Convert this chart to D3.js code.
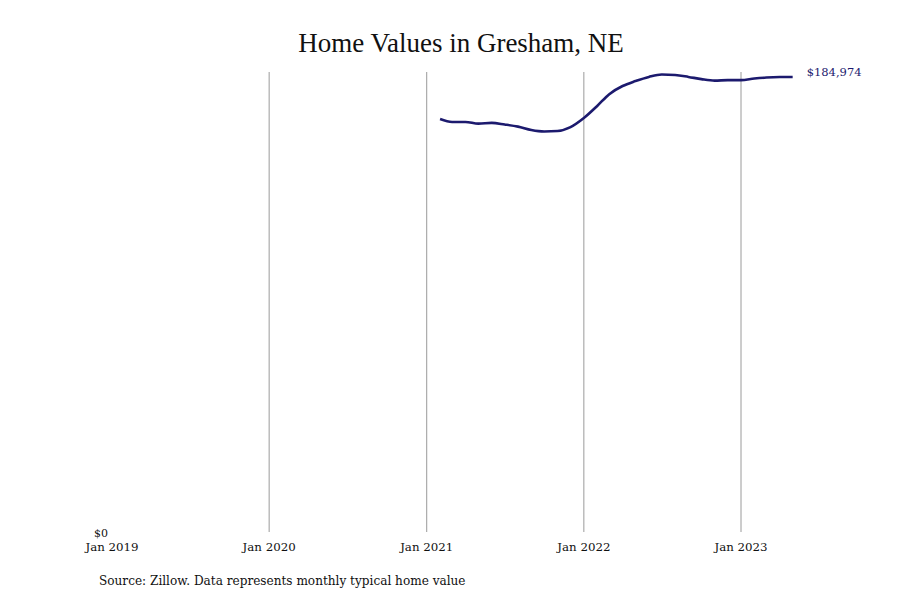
<!DOCTYPE html>
<html><head><meta charset="utf-8">
<script src="https://cdn.jsdelivr.net/npm/d3@7"></script>
<style>body{margin:0;background:#fff;} svg{display:block;}</style>
</head><body>
<svg id="c" width="900" height="600"></svg>
<script>
const months = ["2021-02","2021-03","2021-04","2021-05","2021-06","2021-07","2021-08","2021-09","2021-10","2021-11","2021-12",
"2022-01","2022-02","2022-03","2022-04","2022-05","2022-06","2022-07","2022-08","2022-09","2022-10","2022-11","2022-12",
"2023-01","2023-02","2023-03","2023-04","2023-05"];
const values = [167900,166700,166700,166000,166300,165650,164800,163400,162800,163000,164600,
168300,173200,178000,181300,183300,185000,186000,185800,185000,184100,183500,183700,
183700,184350,184750,184950,184974];
const tickYears = ["2019","2020","2021","2022","2023"];
const tickLabels = ["Jan 2019","Jan 2020","Jan 2021","Jan 2022","Jan 2023"];
const yMax = 187000;

const parse = d3.timeParse("%Y-%m");
const data = months.map((m,i)=>({date:parse(m), value:values[i]}));
const svg = d3.select("#c");
const font = "'DejaVu Serif',serif";
const titleFont = "'Liberation Serif','DejaVu Serif',serif";

const x = d3.scaleTime().domain([new Date(2019,0,1), new Date(2023,0,1)]).range([112,741]);
const y = d3.scaleLinear().domain([0,yMax]).range([532,72]);

// gridlines
svg.append("g").selectAll("line").data(tickYears.slice(1)).join("line")
  .attr("x1",d=>x(new Date(+d,0,1))).attr("x2",d=>x(new Date(+d,0,1)))
  .attr("y1",y(0)).attr("y2",y(yMax))
  .attr("stroke","#9a9a9a").attr("stroke-width",1);

// x tick labels
svg.append("g").selectAll("text").data(tickYears).join("text")
  .attr("x",d=>x(new Date(+d,0,1))).attr("y",551)
  .attr("text-anchor","middle").attr("font-family",font).attr("font-size",11.8).attr("fill","#111")
  .text((d,i)=>tickLabels[i]);

// y label
svg.append("text").attr("x",108).attr("y",y(0)+5).attr("text-anchor","end")
  .attr("font-family",font).attr("font-size",11).attr("fill","#111").text("$0");

// line
svg.append("path").datum(data)
  .attr("d", d3.line().x(d=>x(d.date)).y(d=>y(d.value)).curve(d3.curveMonotoneX))
  .attr("fill","none").attr("stroke","#1c1a6e").attr("stroke-width",2.6);

const last = data[data.length-1];
svg.append("text").attr("x",x(last.date)+14).attr("y",y(last.value)-1)
  .attr("font-family",font).attr("font-size",11.5).attr("fill","#1c1a6e")
  .text("$"+d3.format(",")(last.value));

// title
svg.append("text").attr("x",461).attr("y",52).attr("text-anchor","middle")
  .attr("font-family",titleFont).attr("font-size",27).attr("fill","#111").text("Home Values in Gresham, NE");

// source
svg.append("text").attr("x",99).attr("y",585)
  .attr("font-family",font).attr("font-size",12.1).attr("fill","#111")
  .text("Source: Zillow. Data represents monthly typical home value");
</script>
</body></html>
